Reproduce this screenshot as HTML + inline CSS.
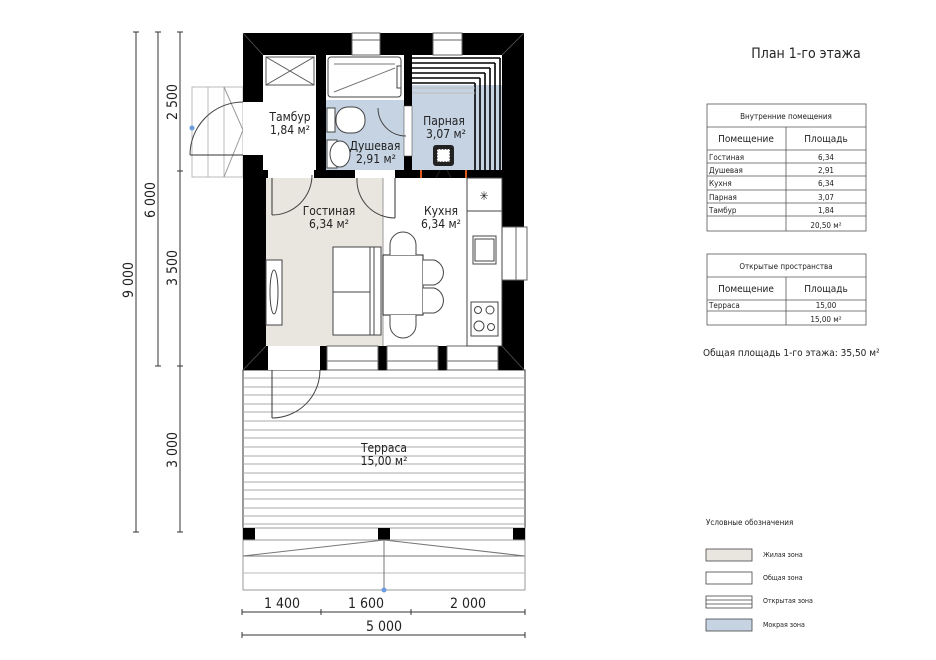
<!DOCTYPE html>
<html><head><meta charset="utf-8"><style>
html,body{margin:0;padding:0;background:#fff}
svg{display:block}
text{font-family:"DejaVu Sans Condensed","Liberation Sans",sans-serif;fill:#222}
</style></head><body>
<svg width="936" height="660" viewBox="0 0 936 660" xmlns="http://www.w3.org/2000/svg">
<!-- left dimensions -->
<g stroke="#333" stroke-width="1">
<line x1="136" y1="32" x2="136" y2="532"/><line x1="158" y1="32" x2="158" y2="366"/><line x1="180" y1="32" x2="180" y2="532"/>
<line x1="133" y1="32" x2="139" y2="32"/><line x1="133" y1="532" x2="139" y2="532"/>
<line x1="155" y1="32" x2="161" y2="32"/><line x1="155" y1="366" x2="161" y2="366"/>
<line x1="177" y1="32" x2="183" y2="32"/><line x1="177" y1="171" x2="183" y2="171"/><line x1="177" y1="366" x2="183" y2="366"/><line x1="177" y1="532" x2="183" y2="532"/>
</g>
<g font-size="14">
<text transform="translate(133,280) rotate(-90)" text-anchor="middle">9 000</text>
<text transform="translate(155,200) rotate(-90)" text-anchor="middle">6 000</text>
<text transform="translate(177,102) rotate(-90)" text-anchor="middle">2 500</text>
<text transform="translate(177,268) rotate(-90)" text-anchor="middle">3 500</text>
<text transform="translate(177,450) rotate(-90)" text-anchor="middle">3 000</text>
</g>
<!-- bottom dims -->
<g stroke="#333" stroke-width="1">
<line x1="242" y1="612" x2="525" y2="612"/><line x1="242" y1="635" x2="525" y2="635"/>
<line x1="242" y1="609" x2="242" y2="615"/><line x1="321" y1="609" x2="321" y2="615"/><line x1="411" y1="609" x2="411" y2="615"/><line x1="525" y1="609" x2="525" y2="615"/>
<line x1="242" y1="632" x2="242" y2="638"/><line x1="525" y1="632" x2="525" y2="638"/>
</g>
<g font-size="14" text-anchor="middle">
<text x="282" y="608">1 400</text><text x="366" y="608">1 600</text><text x="468" y="608">2 000</text><text x="384" y="631">5 000</text>
</g>
<!-- entrance steps -->
<g stroke="#bbb" fill="none"><rect x="192" y="87" width="51" height="90"/><line x1="208" y1="87" x2="208" y2="177"/><line x1="224" y1="87" x2="224" y2="177"/><polyline points="224,87 243,130 224,177" stroke="#999"/></g>
<line x1="190" y1="155" x2="243" y2="155" stroke="#333"/>
<path d="M190,155 A53,53 0 0 1 243,102" fill="none" stroke="#444"/>
<circle cx="192" cy="128" r="2.5" fill="#6a9ae0"/>
<!-- terrace -->
<rect x="243" y="370" width="282" height="160" fill="#fff" stroke="#333"/>
<g stroke="#aaa">
<line x1="243" y1="378" x2="525" y2="378"/><line x1="243" y1="387" x2="525" y2="387"/><line x1="243" y1="395" x2="525" y2="395"/><line x1="243" y1="404" x2="525" y2="404"/><line x1="243" y1="412" x2="525" y2="412"/><line x1="243" y1="421" x2="525" y2="421"/><line x1="243" y1="430" x2="525" y2="430"/><line x1="243" y1="438" x2="525" y2="438"/><line x1="243" y1="447" x2="525" y2="447"/><line x1="243" y1="456" x2="525" y2="456"/><line x1="243" y1="464" x2="525" y2="464"/><line x1="243" y1="473" x2="525" y2="473"/><line x1="243" y1="482" x2="525" y2="482"/><line x1="243" y1="490" x2="525" y2="490"/><line x1="243" y1="499" x2="525" y2="499"/><line x1="243" y1="508" x2="525" y2="508"/><line x1="243" y1="516" x2="525" y2="516"/><line x1="243" y1="524" x2="525" y2="524"/>
</g>
<rect x="243" y="528" width="282" height="12" fill="#fff" stroke="#999"/>
<rect x="243" y="528" width="12" height="12" fill="#000"/><rect x="378" y="528" width="12" height="12" fill="#000"/><rect x="513" y="528" width="12" height="12" fill="#000"/>
<rect x="243" y="540" width="282" height="50" fill="#fff" stroke="#999"/>
<g stroke="#777"><line x1="243" y1="556" x2="525" y2="556"/><line x1="243" y1="573" x2="525" y2="573" stroke="#bbb"/><line x1="243" y1="556" x2="384" y2="540"/><line x1="525" y1="556" x2="384" y2="540"/><line x1="384" y1="540" x2="384" y2="590"/></g>
<circle cx="384" cy="590" r="2.5" fill="#6a9ae0"/>
<text x="384" y="452" font-size="12" text-anchor="middle">Терраса</text>
<text x="384" y="465" font-size="12" text-anchor="middle">15,00 м²</text>
<!-- terrace door -->
<line x1="272" y1="370" x2="272" y2="418" stroke="#333"/>
<path d="M272,418 A48,48 0 0 0 320,370" fill="none" stroke="#444"/>
<!-- building walls -->
<rect x="243" y="33" width="281" height="337" fill="#000"/>
<!-- interior rooms -->
<rect x="263" y="55" width="53" height="115" fill="#fff"/>
<rect x="326" y="55" width="78" height="115" fill="#fff"/>
<rect x="326" y="100" width="78" height="70" fill="#c5d3e3"/>
<rect x="412" y="55" width="90" height="115" fill="#fff"/>
<rect x="412" y="85" width="90" height="85" fill="#c5d3e3"/>
<rect x="266" y="178" width="236" height="168" fill="#fff"/>
<rect x="266" y="178" width="117" height="168" fill="#e9e5df"/>
<line x1="383" y1="178" x2="383" y2="346" stroke="#999"/>
<!-- outer corner diagonals -->
<g stroke="#555" stroke-width="0.8"><line x1="243" y1="33" x2="263" y2="55"/><line x1="524" y1="33" x2="502" y2="55"/><line x1="243" y1="370" x2="266" y2="346"/><line x1="524" y1="370" x2="502" y2="346"/></g>
<!-- tambur cross -->
<rect x="266" y="57" width="48" height="28" fill="none" stroke="#555"/>
<line x1="266" y1="57" x2="314" y2="85" stroke="#555"/><line x1="314" y1="57" x2="266" y2="85" stroke="#555"/>
<!-- left door opening -->
<rect x="243" y="102" width="20" height="53" fill="#fff"/>
<!-- tambur->living door -->
<rect x="268" y="170" width="46" height="8" fill="#fff"/>
<line x1="272" y1="178" x2="272" y2="215" stroke="#333"/>
<path d="M272,215 A40,40 0 0 0 312,175" fill="none" stroke="#444"/>
<!-- shower door -->
<rect x="355" y="170" width="40" height="8" fill="#fff"/>
<path d="M357,178 A38,38 0 0 0 395,218" fill="none" stroke="#444"/>
<line x1="395" y1="178" x2="395" y2="218" stroke="#333"/>
<!-- parnaya door -->
<rect x="404" y="106" width="8" height="50" fill="#fff" stroke="#555" stroke-width="0.6"/>
<path d="M378,108 A28,28 0 0 0 406,136" fill="none" stroke="#444"/>
<!-- bathtub -->
<rect x="328" y="57" width="73" height="40" rx="3" fill="#fff" stroke="#444"/>
<line x1="334" y1="64" x2="395" y2="64" stroke="#777"/><line x1="334" y1="92" x2="395" y2="68" stroke="#777"/>
<rect x="397" y="66" width="4" height="22" fill="#fff" stroke="#444"/>
<!-- toilet -->
<rect x="327" y="108" width="8" height="24" fill="#fff" stroke="#444"/>
<rect x="336" y="107" width="29" height="26" rx="12" fill="#fff" stroke="#444"/>
<rect x="327" y="140" width="10" height="28" fill="#fff" stroke="#444"/>
<ellipse cx="340" cy="154" rx="10" ry="13" fill="#fff" stroke="#444"/>
<!-- sauna benches -->
<g stroke="#000" stroke-width="1.6">
<line x1="412" y1="58" x2="500" y2="58"/><line x1="412" y1="63" x2="495" y2="63"/><line x1="412" y1="68" x2="490" y2="68"/><line x1="412" y1="73" x2="485" y2="73"/><line x1="412" y1="78" x2="480" y2="78"/><line x1="412" y1="83" x2="475" y2="83"/>
<line x1="475" y1="83" x2="475" y2="170"/><line x1="480" y1="78" x2="480" y2="170"/><line x1="485" y1="73" x2="485" y2="170"/><line x1="490" y1="68" x2="490" y2="170"/><line x1="495" y1="63" x2="495" y2="170"/><line x1="500" y1="58" x2="500" y2="170"/>
</g>
<g stroke="#bbb"><line x1="412" y1="88" x2="475" y2="88"/><line x1="412" y1="93" x2="475" y2="93"/></g>
<!-- stove -->
<rect x="433" y="145" width="21" height="21" rx="3" fill="#222"/>
<rect x="437" y="149" width="13" height="13" fill="#fff" stroke="#222" stroke-dasharray="2,1"/>
<line x1="436" y1="178" x2="440" y2="170" stroke="#222"/><line x1="451" y1="178" x2="447" y2="170" stroke="#222"/>
<rect x="420" y="170" width="2" height="8" fill="#e05a1a"/><rect x="465" y="170" width="2" height="8" fill="#e05a1a"/>
<!-- windows -->
<g fill="#fff" stroke="#666">
<rect x="352" y="33" width="28" height="22"/><rect x="433" y="33" width="29" height="22"/>
<rect x="502" y="227" width="25" height="53"/>
<rect x="327" y="346" width="51" height="24"/><rect x="387" y="346" width="51" height="24"/><rect x="447" y="346" width="51" height="24"/>
</g>
<g stroke="#666"><line x1="352" y1="40" x2="380" y2="40"/><line x1="433" y1="40" x2="462" y2="40"/><line x1="516" y1="227" x2="516" y2="280"/><line x1="327" y1="361" x2="378" y2="361"/><line x1="387" y1="361" x2="438" y2="361"/><line x1="447" y1="361" x2="498" y2="361"/></g>
<rect x="268" y="346" width="52" height="24" fill="#fff"/>
<!-- living furniture -->
<rect x="266" y="260" width="16" height="65" fill="#fff" stroke="#444"/>
<ellipse cx="274" cy="292" rx="4" ry="22" fill="#fff" stroke="#444"/>
<rect x="333" y="247" width="48" height="88" fill="#fff" stroke="#444"/>
<line x1="370" y1="247" x2="370" y2="335" stroke="#444"/><line x1="374" y1="247" x2="374" y2="335" stroke="#444"/><line x1="333" y1="292" x2="370" y2="292" stroke="#444"/>
<!-- kitchen -->
<rect x="383" y="255" width="40" height="60" fill="#fff" stroke="#222"/>
<path d="M390,255 V245 A13,13 0 0 1 416,245 V255" fill="#fff" stroke="#444"/>
<path d="M390,315 V325 A13,13 0 0 0 416,325 V315" fill="#fff" stroke="#444"/>
<path d="M423,260 H434 A13,13 0 0 1 434,285 H423" fill="#fff" stroke="#444"/>
<path d="M423,288 H434 A13,13 0 0 1 434,313 H423" fill="#fff" stroke="#444"/>
<rect x="467" y="178" width="35" height="168" fill="#fff" stroke="#444"/>
<line x1="467" y1="211" x2="502" y2="211" stroke="#444"/>
<text x="484" y="200" font-size="12" text-anchor="middle" fill="#444">✳</text>
<rect x="473" y="236" width="23" height="28" fill="#fff" stroke="#444"/><rect x="475" y="239" width="19" height="22" fill="none" stroke="#444"/>
<rect x="471" y="302" width="27" height="34" fill="#fff" stroke="#444"/>
<circle cx="478" cy="310" r="3.5" fill="none" stroke="#444"/><circle cx="490" cy="310" r="4" fill="none" stroke="#444"/><circle cx="479" cy="326" r="5" fill="none" stroke="#444"/><circle cx="491" cy="327" r="3.5" fill="none" stroke="#444"/>
<!-- room labels -->
<g font-size="12" text-anchor="middle">
<text x="290" y="121">Тамбур</text><text x="290" y="134">1,84 м²</text>
<text x="375" y="150">Душевая</text><text x="376" y="163">2,91 м²</text>
<text x="444" y="125">Парная</text><text x="446" y="138">3,07 м²</text>
<text x="329" y="215">Гостиная</text><text x="329" y="228">6,34 м²</text>
<text x="441" y="215">Кухня</text><text x="441" y="228">6,34 м²</text>
</g>
<!-- title -->
<text x="806" y="58" font-size="14" text-anchor="middle">План 1-го этажа</text>
<!-- table 1 -->
<g stroke="#555" fill="none" stroke-width="0.8">
<rect x="707" y="104" width="159" height="127"/>
<line x1="707" y1="127" x2="866" y2="127"/><line x1="707" y1="150" x2="866" y2="150"/>
<line x1="707" y1="163" x2="866" y2="163"/><line x1="707" y1="176" x2="866" y2="176"/><line x1="707" y1="190" x2="866" y2="190"/><line x1="707" y1="203" x2="866" y2="203"/><line x1="707" y1="216" x2="866" y2="216"/>
<line x1="786" y1="127" x2="786" y2="231"/>
</g>
<g font-size="8"><text x="786" y="119" text-anchor="middle">Внутренние помещения</text>
<text x="746" y="142" font-size="10" text-anchor="middle">Помещение</text><text x="826" y="142" font-size="10" text-anchor="middle">Площадь</text>
<text x="709" y="160">Гостиная</text><text x="709" y="173">Душевая</text><text x="709" y="186">Кухня</text><text x="709" y="200">Парная</text><text x="709" y="213">Тамбур</text>
<g text-anchor="middle"><text x="826" y="160">6,34</text><text x="826" y="173">2,91</text><text x="826" y="186">6,34</text><text x="826" y="200">3,07</text><text x="826" y="213">1,84</text><text x="826" y="228">20,50 м²</text></g></g>
<!-- table 2 -->
<g stroke="#555" fill="none" stroke-width="0.8">
<rect x="707" y="254" width="159" height="71"/>
<line x1="707" y1="277" x2="866" y2="277"/><line x1="707" y1="300" x2="866" y2="300"/><line x1="707" y1="311" x2="866" y2="311"/>
<line x1="786" y1="277" x2="786" y2="325"/>
</g>
<g font-size="8"><text x="786" y="269" text-anchor="middle">Открытые пространства</text>
<text x="746" y="292" font-size="10" text-anchor="middle">Помещение</text><text x="826" y="292" font-size="10" text-anchor="middle">Площадь</text>
<text x="709" y="308">Терраса</text><text x="826" y="308" text-anchor="middle">15,00</text><text x="826" y="322" text-anchor="middle">15,00 м²</text></g>
<text x="703" y="356" font-size="10">Общая площадь 1-го этажа:  35,50 м²</text>
<!-- legend -->
<text x="706" y="525" font-size="8">Условные обозначения</text>
<g stroke="#444" stroke-width="0.8">
<rect x="706" y="549" width="46" height="12" fill="#e9e5df"/>
<rect x="706" y="572" width="46" height="12" fill="#fff"/>
<rect x="706" y="596" width="46" height="12" fill="#fff"/><line x1="706" y1="600" x2="752" y2="600"/><line x1="706" y1="604" x2="752" y2="604"/>
<rect x="706" y="619" width="46" height="12" fill="#c5d3e3"/>
</g>
<g font-size="7"><text x="763" y="557">Жилая зона</text><text x="763" y="580">Общая зона</text><text x="763" y="603">Открытая зона</text><text x="763" y="627">Мокрая зона</text></g>
</svg>
</body></html>
